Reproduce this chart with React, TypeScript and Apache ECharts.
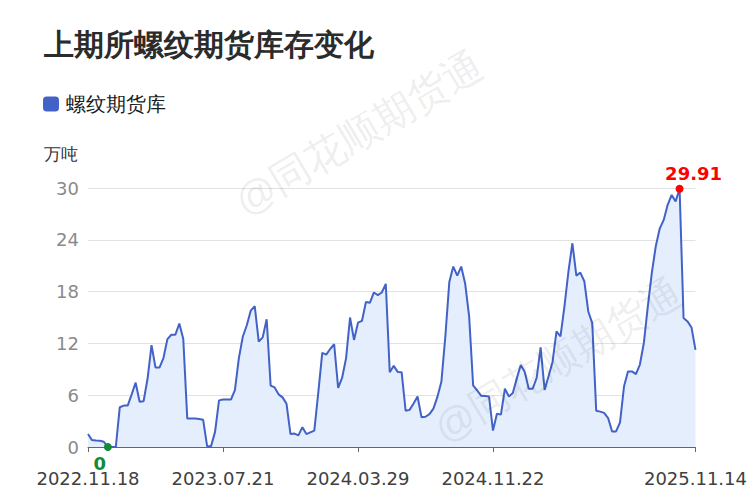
import React, { useEffect, useRef } from "react";
import * as echarts from "echarts";

const titleText = "上期所螺纹期货库存变化";
const seriesName = "螺纹期货库";
const unitName = "万吨";
const watermarkText = "@同花顺期货通";

// weekly report dates start / holiday weeks without report
const startDate = "2022.11.18";
const skippedWeeks = ["2023.01.27", "2023.10.06", "2024.02.16"];
const xTickLabels = ["2022.11.18", "2023.07.21", "2024.03.29", "2024.11.22", "2025.11.14"];

const yTicks = [0, 6, 12, 18, 24, 30];

const inventory = [
  1.5, 0.8, 0.75, 0.73, 0.6, 0, 0, 0, 4.6, 4.8,
  4.8, 6.1, 7.45, 5.25, 5.3, 7.9, 11.8, 9.2, 9.2, 10.3,
  12.5, 13.0, 13.0, 14.3, 12.5, 3.3, 3.3, 3.3, 3.25, 3.15,
  0.1, 0.1, 1.75, 5.4, 5.5, 5.5, 5.5, 6.6, 10.3, 12.8,
  14.1, 15.8, 16.3, 12.2, 12.7, 14.8, 7.1, 6.9, 6.1, 5.75,
  5.0, 1.5, 1.55, 1.35, 2.3, 1.5, 1.7, 1.9, 6.3, 10.9,
  10.7, 11.35, 11.9, 6.85, 8.0, 10.3, 15.0, 12.4, 14.4, 14.6,
  16.8, 16.7, 17.9, 17.6, 17.9, 18.9, 8.65, 9.4, 8.7, 8.65,
  4.2, 4.3, 5.05, 5.85, 3.45, 3.5, 3.8, 4.45, 5.8, 7.55,
  12.8, 19.1, 20.9, 19.85, 20.9, 18.9, 15.1, 7.15, 6.55, 5.95,
  5.9, 5.85, 1.9, 3.85, 3.75, 6.75, 5.85, 6.25, 7.95, 9.5,
  8.7, 6.75, 6.75, 8.0, 11.55, 6.6, 8.2, 9.85, 13.4, 12.8,
  16.3, 20.3, 23.6, 19.85, 20.2, 19.2, 15.7, 14.35, 4.2, 4.1,
  3.95, 3.35, 1.8, 1.8, 2.85, 7.0, 8.75, 8.75, 8.45, 9.55,
  12.05, 16.3, 20.15, 23.25, 25.3, 26.3, 28.05, 29.2, 28.45, 29.91,
  14.95, 14.55, 13.85, 11.25,
];

function fmt(d: Date): string {
  const y = d.getUTCFullYear();
  const m = String(d.getUTCMonth() + 1).padStart(2, "0");
  const dd = String(d.getUTCDate()).padStart(2, "0");
  return `${y}.${m}.${dd}`;
}

function buildDates(): string[] {
  const [y, m, d] = startDate.split(".").map(Number);
  let t = Date.UTC(y, m - 1, d);
  const out: string[] = [];
  while (out.length < inventory.length) {
    const s = fmt(new Date(t));
    if (!skippedWeeks.includes(s)) out.push(s);
    t += 7 * 24 * 3600 * 1000;
  }
  return out;
}

const dates = buildDates();

export default function App() {
  const ref = useRef<HTMLDivElement>(null);
  useEffect(() => {
    if (!ref.current) return;
    const chart = echarts.init(ref.current, null, { renderer: "svg" });
    const showIdx = (idx: number) => xTickLabels.includes(dates[idx]);
    const lineColor = "#4262c8";
    chart.setOption({
      animation: false,
      backgroundColor: "#fff",
      title: {
        text: titleText,
        left: 44,
        top: 29,
        padding: 0,
        textStyle: { fontSize: 30, fontWeight: "bold", color: "#2b2b2b" },
      },
      legend: {
        data: [seriesName],
        left: 43,
        top: 94,
        padding: 0,
        icon: "roundRect",
        itemWidth: 16,
        itemHeight: 15,
        itemGap: 10,
        textStyle: { fontSize: 19.5, color: "#1a1a1a", padding: [0, 0, 0, 2] },
      },
      graphic: [
        {
          type: "text",
          left: 44,
          top: 146,
          style: { text: unitName, fontSize: 17, fill: "#333" },
        },
        {
          type: "text",
          x: 359,
          y: 133,
          rotation: 0.536,
          z: 100,
          silent: true,
          style: {
            text: watermarkText,
            fontSize: 40,
            fill: "rgba(0,0,0,0.085)",
            align: "center",
            verticalAlign: "middle",
          },
        },
        {
          type: "text",
          x: 558,
          y: 360,
          rotation: 0.536,
          z: 100,
          silent: true,
          style: {
            text: watermarkText,
            fontSize: 40,
            fill: "rgba(0,0,0,0.085)",
            align: "center",
            verticalAlign: "middle",
          },
        },
      ],
      grid: { left: 88, right: 52, top: 188, bottom: 48 },
      xAxis: {
        type: "category",
        data: dates,
        boundaryGap: false,
        axisLine: { lineStyle: { color: "#666", width: 1 } },
        axisTick: {
          show: true,
          interval: (idx: number) => showIdx(idx),
          length: 5,
          lineStyle: { color: "#666" },
        },
        axisLabel: {
          interval: (idx: number) => showIdx(idx),
          fontSize: 18,
          color: "#404040",
          margin: 22,
          fontFamily: "DejaVu Sans",
          showMaxLabel: true,
        },
        splitLine: { show: false },
      },
      yAxis: {
        type: "value",
        min: yTicks[0],
        max: yTicks[yTicks.length - 1],
        interval: yTicks[1] - yTicks[0],
        axisLine: { show: false },
        axisTick: { show: false },
        axisLabel: { fontSize: 18, color: "#8a8a8a", margin: 9, fontFamily: "DejaVu Sans" },
        splitLine: { lineStyle: { color: "#e2e2e2", width: 1 } },
      },
      series: [
        {
          name: seriesName,
          type: "line",
          data: inventory,
          symbol: "none",
          showSymbol: false,
          lineStyle: { color: lineColor, width: 2 },
          itemStyle: { color: lineColor },
          areaStyle: { color: "#e5eefd", opacity: 1 },
          markPoint: {
            symbol: "circle",
            symbolSize: 8,
            data: [
              {
                type: "max",
                itemStyle: { color: "#ff0000" },
                label: {
                  show: true,
                  position: "top",
                  distance: 3,
                  offset: [14, 1],
                  color: "#ff0000",
                  fontSize: 18,
                  fontWeight: "bold",
                  fontFamily: "DejaVu Sans",
                  formatter: (p: any) => String(p.value),
                },
              },
              {
                type: "min",
                itemStyle: { color: "#138a36" },
                label: {
                  show: true,
                  position: "bottom",
                  distance: 3,
                  offset: [-8, 0],
                  color: "#138a36",
                  fontSize: 18,
                  fontWeight: "bold",
                  fontFamily: "DejaVu Sans",
                  formatter: (p: any) => String(p.value),
                },
              },
            ],
          },
        },
      ],
    });
    return () => chart.dispose();
  }, []);
  return <div ref={ref} style={{ width: 750, height: 495, position: "absolute", left: 0, top: 0 }} />;
}
